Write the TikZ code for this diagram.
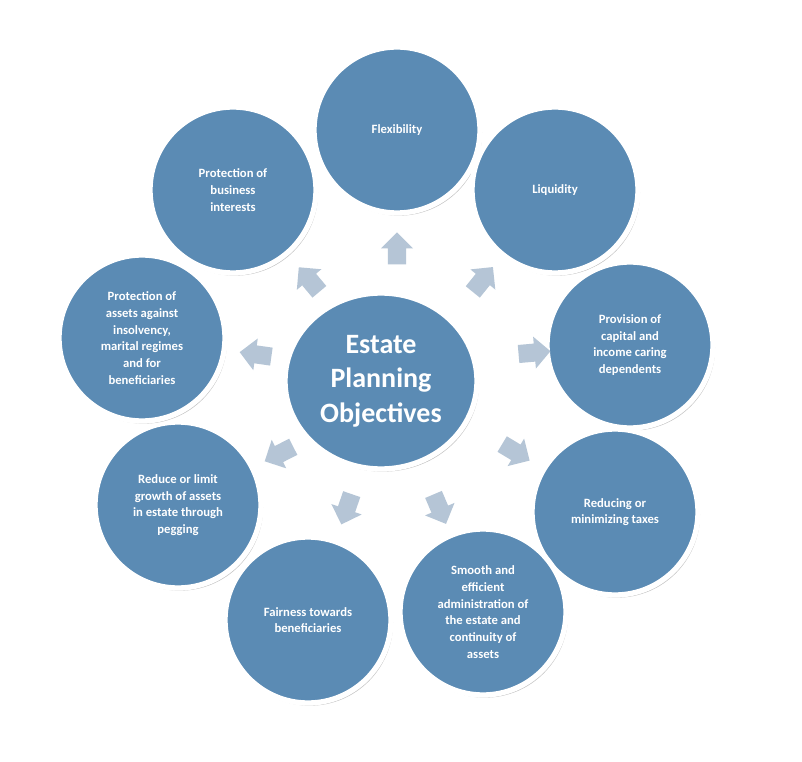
\documentclass[tikz,border=0pt]{standalone}
\usepackage{fontspec}
\setmainfont{Carlito}
\usetikzlibrary{shapes.arrows,shapes.geometric,shadows}
\definecolor{cfill}{HTML}{5B8BB4}
\definecolor{arr}{HTML}{B5C5D6}
\tikzset{
 obj/.style={circle,fill=cfill,draw=white,line width=4pt,minimum size=166*0.75pt,inner sep=0pt,
   align=center,text=white,font=\bfseries\fontsize{9.5}{12.5}\selectfont,
   drop shadow={shadow xshift=1.5pt,shadow yshift=-2pt,fill=black!40,opacity=0.6}},
 arw/.style={single arrow,fill=arr,minimum height=24pt,minimum width=24pt,single arrow head extend=4pt,inner sep=5pt}
}
\begin{document}
\begin{tikzpicture}[x=0.75pt,y=-0.75pt]
\useasboundingbox[fill=white] (0,0) rectangle (802,762);
\node[obj] (flex) at (397,130) {Flexibility};
\node[obj] (liq) at (555,190) {Liquidity};
\node[obj] (prov) at (630,345) {Provision of\\capital and\\income caring\\dependents};
\node[obj] (tax) at (615,512) {Reducing or\\minimizing taxes};
\node[obj] (smooth) at (483,612) {Smooth and\\efficient\\administration of\\the estate and\\continuity of\\assets};
\node[obj] (fair) at (308,620) {Fairness towards\\beneficiaries};
\node[obj] (peg) at (178,505) {Reduce or limit\\growth of assets\\in estate through\\pegging};
\node[obj] (asset) at (142,338) {Protection of\\assets against\\insolvency,\\marital regimes\\and for\\beneficiaries};
\node[obj] (bus) at (233,190) {Protection of\\business\\interests};
\node[ellipse,fill=cfill,draw=white,line width=4pt,minimum width=192*0.75pt,minimum height=176*0.75pt,
  inner sep=0pt,align=center,text=white,font=\bfseries\fontsize{21}{26}\selectfont,
  drop shadow={shadow xshift=1.5pt,shadow yshift=-2pt,fill=black!40,opacity=0.6}] (c) at (381,381)
  {Estate\\Planning\\Objectives};
\node[arw,rotate=90] (a1) at (397,253) {};
\node[arw,rotate=51] (a2) at (480,283) {};
\node[arw,rotate=5] (a3) at (530,353) {};
\node[arw,rotate=-31] (a4) at (512,450) {};
\node[arw,rotate=-67] (a5) at (438,505) {};
\node[arw,rotate=-109] (a6) at (348,505) {};
\node[arw,rotate=-153] (a7) at (283,452) {};
\node[arw,rotate=172] (a8) at (260,355) {};
\node[arw,rotate=130] (a9) at (312,283) {};
\end{tikzpicture}
\end{document}
